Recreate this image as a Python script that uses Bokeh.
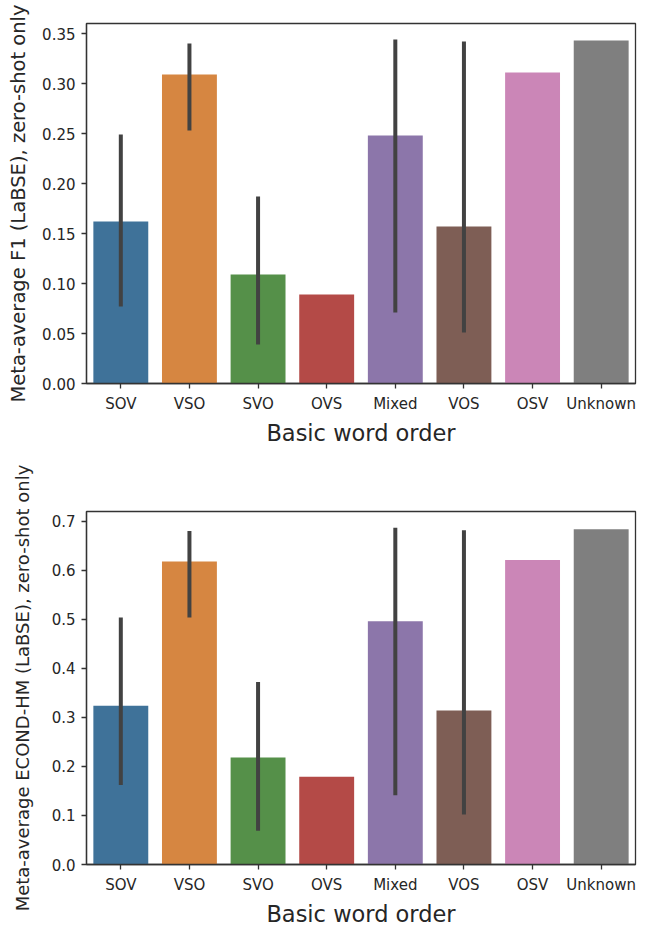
from bokeh.plotting import figure
from bokeh.layouts import column
from bokeh.models import ColumnDataSource, Range1d, FixedTicker, NumeralTickFormatter
from bokeh.embed import file_html
from bokeh.resources import INLINE

categories = ["SOV", "VSO", "SVO", "OVS", "Mixed", "VOS", "OSV", "Unknown"]
colors = ["#3f7299", "#d68641", "#559049", "#b44a47", "#8c76aa", "#7e5e55", "#cb86b7", "#7f7f7f"]

# top chart: Meta-average F1 (LaBSE)
f1_mean = [0.162, 0.309, 0.109, 0.089, 0.248, 0.157, 0.311, 0.343]
f1_lo = [0.077, 0.253, 0.039, None, 0.071, 0.051, None, None]
f1_hi = [0.249, 0.340, 0.187, None, 0.344, 0.342, None, None]

# bottom chart: Meta-average ECOND-HM (LaBSE)
ec_mean = [0.324, 0.618, 0.218, 0.179, 0.496, 0.314, 0.621, 0.684]
ec_lo = [0.162, 0.504, 0.069, None, 0.141, 0.102, None, None]
ec_hi = [0.504, 0.680, 0.372, None, 0.687, 0.682, None, None]

f1_ticks = [0.0, 0.05, 0.10, 0.15, 0.20, 0.25, 0.30, 0.35]
ec_ticks = [0.0, 0.1, 0.2, 0.3, 0.4, 0.5, 0.6, 0.7]

TXT = "#262626"
FONT = "DejaVu Sans"


def make_chart(means, lo, hi, ymax, ticks, fmt, ylabel, ylabel_size, ylabel_standoff,
               width, height, bl, bt, br, bb):
    p = figure(x_range=categories, y_range=Range1d(0, ymax),
               width=width, height=height, output_backend="svg",
               toolbar_location=None, min_border_left=bl, min_border_top=bt,
               min_border_right=br, min_border_bottom=bb)
    p.x_range.range_padding = 0
    src = ColumnDataSource(dict(x=categories, top=means, color=colors))
    p.vbar(x="x", top="top", bottom=0, width=0.8, fill_color="color",
           line_color=None, source=src)
    ex = [c for c, a in zip(categories, lo) if a is not None]
    e0 = [a for a in lo if a is not None]
    e1 = [b for b in hi if b is not None]
    esrc = ColumnDataSource(dict(x=ex, y0=e0, y1=e1))
    p.segment(x0="x", x1="x", y0="y0", y1="y1", line_color="#424242",
              line_width=4, source=esrc)

    p.xgrid.visible = False
    p.ygrid.visible = False
    p.outline_line_color = "#333333"
    p.outline_line_width = 1.3
    p.outline_line_alpha = 1
    p.background_fill_color = "white"
    p.border_fill_color = "white"

    for ax in (p.xaxis[0], p.yaxis[0]):
        ax.axis_line_color = "#333333"
        ax.axis_line_width = 1.3
        ax.major_tick_line_color = "#333333"
        ax.major_tick_line_width = 1.3
        ax.major_tick_out = 5
        ax.major_tick_in = 0
        ax.minor_tick_line_color = None
        ax.major_label_text_font = FONT
        ax.major_label_text_font_size = "15px"
        ax.major_label_text_color = TXT
        ax.major_label_standoff = 6
        ax.axis_label_text_font = FONT
        ax.axis_label_text_font_style = "normal"
        ax.axis_label_text_color = TXT

    p.xaxis.axis_label = "Basic word order"
    p.xaxis.axis_label_text_font_size = "22.5px"
    p.xaxis.axis_label_standoff = 4
    p.yaxis.axis_label = ylabel
    p.yaxis.axis_label_text_font_size = ylabel_size
    p.yaxis.axis_label_standoff = ylabel_standoff
    p.yaxis.ticker = FixedTicker(ticks=ticks)
    p.yaxis.formatter = NumeralTickFormatter(format=fmt)
    return p


p1 = make_chart(f1_mean, f1_lo, f1_hi, 0.36, f1_ticks, "0.00",
                "Meta-average F1 (LaBSE), zero-shot only", "19.5px", 9,
                650, 455, 86, 23, 15, 72)
p2 = make_chart(ec_mean, ec_lo, ec_hi, 0.72, ec_ticks, "0.0",
                "Meta-average ECOND-HM (LaBSE), zero-shot only", "18px", 16,
                650, 479, 78, 56, 6, 70)

layout = column(p1, p2, spacing=0)
open("out.html", "w").write(file_html(layout, INLINE))
